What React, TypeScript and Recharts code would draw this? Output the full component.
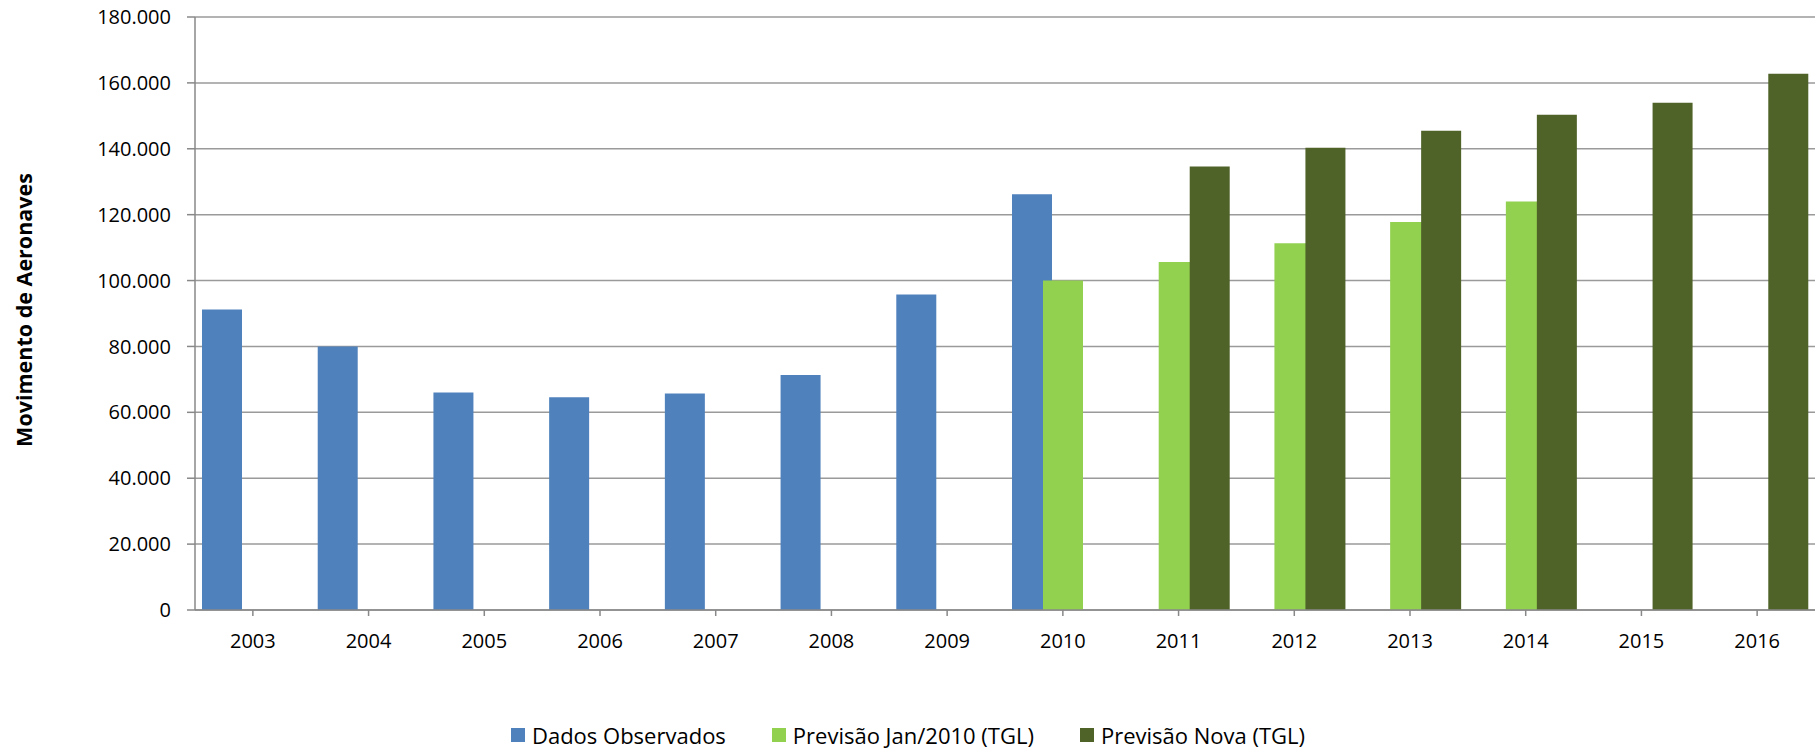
import { BarChart, Bar, XAxis, YAxis, CartesianGrid, Legend } from 'recharts';

const years = ['2003', '2004', '2005', '2006', '2007', '2008', '2009', '2010', '2011', '2012', '2013', '2014', '2015', '2016'];
const observados = [91200, 80000, 66000, 64600, 65700, 71300, 95800, 126200, null, null, null, null, null, null];
const previsaoJan2010 = [null, null, null, null, null, null, null, 100000, 105600, 111300, 117800, 124000, null, null];
const previsaoNova = [null, null, null, null, null, null, null, null, 134600, 140300, 145500, 150300, 154000, 162800];
const yTicks = [0, 20000, 40000, 60000, 80000, 100000, 120000, 140000, 160000, 180000];

const series = [
  { key: 'observados', name: 'Dados Observados', color: '#4F81BD' },
  { key: 'previsaoJan2010', name: 'Previsão Jan/2010 (TGL)', color: '#92D050' },
  { key: 'previsaoNova', name: 'Previsão Nova (TGL)', color: '#4F6228' },
];

const chartData = years.map((year, i) => ({
  year,
  observados: observados[i],
  previsaoJan2010: previsaoJan2010[i],
  previsaoNova: previsaoNova[i],
}));

const FONT = '"Open Sans", "Liberation Sans", sans-serif';

// 20000 -> "20.000"
function formatThousands(v: number): string {
  if (v === 0) return '0';
  return `${Math.round(v / 1000)}.000`;
}

function LegendContent() {
  return (
    <div style={{ display: 'flex', justifyContent: 'center', gap: 46, fontFamily: FONT, fontSize: 22, color: '#000' }}>
      {series.map((s) => (
        <div key={s.key} style={{ display: 'flex', alignItems: 'center', gap: 7 }}>
          <span style={{ display: 'inline-block', width: 14, height: 14, background: s.color }} />
          <span>{s.name}</span>
        </div>
      ))}
    </div>
  );
}

export default function App() {
  return (
    <div style={{ position: 'absolute', left: 0, top: 0, width: 1816, height: 751, background: '#fff' }}>
      <BarChart
        width={1816}
        height={751}
        data={chartData}
        margin={{ top: 17, right: 1, left: 0, bottom: 0 }}
        barGap={-9}
        barSize={40}
      >
        <CartesianGrid vertical={false} stroke="#9A9A9A" strokeWidth={1.5} />
        <XAxis
          dataKey="year"
          height={141}
          tickSize={6}
          tickMargin={18}
          stroke="#888"
          strokeWidth={1.5}
          tick={{ fill: '#000', fontSize: 20, fontFamily: FONT }}
          interval={0}
        />
        <YAxis
          width={195}
          domain={[0, 180000]}
          ticks={yTicks}
          tickFormatter={formatThousands}
          tickSize={8}
          tickMargin={16}
          stroke="#888"
          strokeWidth={1.5}
          tick={{ fill: '#000', fontSize: 20, fontFamily: FONT }}
          label={{
            content: () => (
              <text
                x={23}
                y={310}
                transform="rotate(-90, 23, 310)"
                textAnchor="middle"
                dominantBaseline="central"
                fontFamily={FONT}
                fontWeight="bold"
                fontSize={21.5}
                fill="#000"
              >
                Movimento de Aeronaves
              </text>
            ),
          }}
        />
        <Legend
          verticalAlign="middle"
          align="center"
          layout="horizontal"
          content={() => <LegendContent />}
          wrapperStyle={{ top: 720, left: 0, width: 1816 }}
        />
        {series.map((s) => (
          <Bar key={s.key} dataKey={s.key} name={s.name} fill={s.color} isAnimationActive={false} />
        ))}
      </BarChart>
    </div>
  );
}
